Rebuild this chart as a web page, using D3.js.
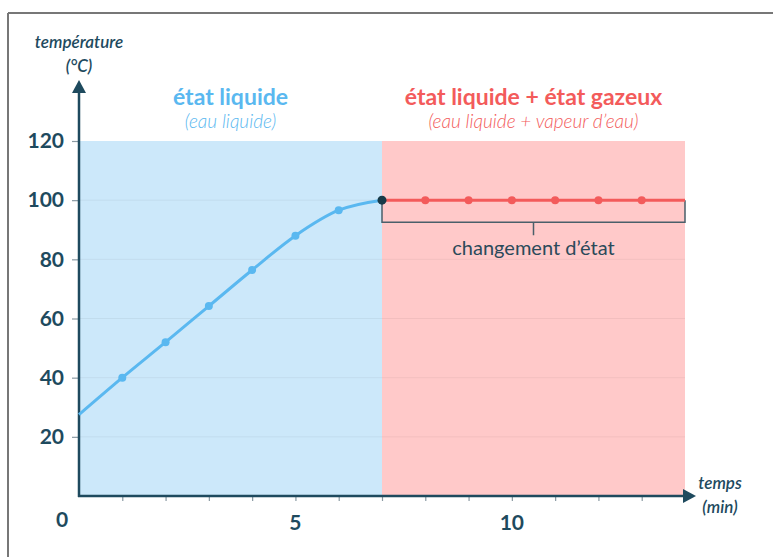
<!DOCTYPE html>
<html>
<head>
<meta charset="utf-8">
<script src="https://cdn.jsdelivr.net/npm/d3@7"></script>
<style>
  body { margin: 0; background: #fff; }
  svg { display: block; font-family: Lato, "Open Sans", sans-serif; }
</style>
</head>
<body>
<div id="chart"></div>
<script>
// heating curve of water: liquid phase then boiling plateau
const heatTimes = [0, 1, 2, 3, 4, 5, 6, 7];
const heatTemps = [27.5, 40, 52, 64.2, 76.4, 88, 96.6, 100];
const boilTimes = [7, 8, 9, 10, 11, 12, 13, 14];
const boilTemps = [100, 100, 100, 100, 100, 100, 100, 100];
const yTicks = [20, 40, 60, 80, 100, 120];
const xLabels = [0, 5, 10];
const phases = [
  { from: 0, to: 7, title: "état liquide", sub: "(eau liquide)" },
  { from: 7, to: 14, title: "état liquide + état gazeux", sub: "(eau liquide + vapeur d’eau)" }
];

const W = 773, H = 557;
const dark = "#1e4a5e";
const blue = "#5ab8f0";
const red = "#f35b5b";
const fills = ["#cce8fa", "#ffc9c9"];
const titleCols = ["#5ab8f0", "#f35b5b"];

const svg = d3.select("#chart").append("svg")
  .attr("width", W)
  .attr("height", H);

const x = d3.scaleLinear().domain([0, 14]).range([79, 685]);
const y = d3.scaleLinear().domain([0, 120]).range([496, 141]);

// frame
svg.append("line").attr("x1", 8).attr("x2", W).attr("y1", 13).attr("y2", 13)
  .attr("stroke", "#777").attr("stroke-width", 2);
svg.append("line").attr("x1", 8).attr("x2", 8).attr("y1", 13).attr("y2", H)
  .attr("stroke", "#777").attr("stroke-width", 2);

// phase backgrounds
svg.selectAll("rect.phase")
  .data(phases)
  .join("rect")
  .attr("class", "phase")
  .attr("x", d => x(d.from))
  .attr("y", y(120))
  .attr("width", d => x(d.to) - x(d.from))
  .attr("height", y(0) - y(120))
  .attr("fill", (d, i) => fills[i]);

// faint gridlines
svg.selectAll("line.grid")
  .data(yTicks.slice(0, -1))
  .join("line")
  .attr("class", "grid")
  .attr("x1", x(0)).attr("x2", x(14))
  .attr("y1", d => y(d)).attr("y2", d => y(d))
  .attr("stroke", "#000").attr("stroke-opacity", 0.05);

// phase titles
svg.selectAll("text.ptitle")
  .data(phases)
  .join("text")
  .attr("class", "ptitle")
  .attr("x", d => (x(d.from) + x(d.to)) / 2)
  .attr("y", 105)
  .attr("text-anchor", "middle")
  .attr("font-size", 23)
  .attr("font-weight", 700)
  .attr("fill", (d, i) => titleCols[i])
  .text(d => d.title);

svg.selectAll("text.psub")
  .data(phases)
  .join("text")
  .attr("class", "psub")
  .attr("x", d => (x(d.from) + x(d.to)) / 2)
  .attr("y", 128)
  .attr("text-anchor", "middle")
  .attr("font-size", 19)
  .attr("font-style", "italic")
  .attr("font-weight", 300)
  .attr("fill", (d, i) => titleCols[i])
  .text(d => d.sub);

// y axis ticks + labels
const yAxis = d3.axisLeft(y).tickValues(yTicks).tickSize(7).tickPadding(8);
const gy = svg.append("g").attr("transform", `translate(${x(0)},0)`).call(yAxis);
gy.select(".domain").remove();
gy.selectAll(".tick line").attr("stroke", "#8a9aa3").attr("stroke-width", 1.2);
gy.selectAll(".tick text")
  .attr("font-family", "Lato, sans-serif")
  .attr("font-size", 21).attr("font-weight", 700).attr("fill", dark);

// x axis minor ticks + labels
const xAxis = d3.axisBottom(x).tickValues(d3.range(1, 14)).tickSize(5).tickFormat("");
const gx = svg.append("g").attr("transform", `translate(0,${y(0)})`).call(xAxis);
gx.select(".domain").remove();
gx.selectAll(".tick line").attr("stroke", "#8a9aa3").attr("stroke-width", 1.2);

svg.selectAll("text.xlab")
  .data(xLabels)
  .join("text")
  .attr("class", "xlab")
  .attr("x", d => d === 0 ? x(0) - 17 : x(d))
  .attr("y", d => d === 0 ? 527 : 530)
  .attr("text-anchor", "middle")
  .attr("font-size", 21).attr("font-weight", 700).attr("fill", dark)
  .text(d => d);

// axis lines with arrows
svg.append("line").attr("x1", x(0)).attr("x2", x(0)).attr("y1", y(0) + 1).attr("y2", 90)
  .attr("stroke", dark).attr("stroke-width", 2.5);
svg.append("path").attr("d", `M${x(0)},80 L${x(0) - 7},93 L${x(0) + 7},93 Z`).attr("fill", dark);
svg.append("line").attr("x1", x(0) - 1).attr("x2", 685).attr("y1", y(0)).attr("y2", y(0))
  .attr("stroke", dark).attr("stroke-width", 2.5);
svg.append("path").attr("d", `M696,${y(0)} L683,${y(0) - 7} L683,${y(0) + 7} Z`).attr("fill", dark);

// axis titles
const axisTitles = [
  { t: "température", x: 79, y: 48 },
  { t: "(°C)", x: 79, y: 72 },
  { t: "temps", x: 720, y: 489 },
  { t: "(min)", x: 720, y: 513 }
];
svg.selectAll("text.atitle")
  .data(axisTitles)
  .join("text")
  .attr("class", "atitle")
  .attr("x", d => d.x).attr("y", d => d.y)
  .attr("text-anchor", "middle")
  .attr("font-size", 17).attr("font-style", "italic").attr("font-weight", 600)
  .attr("fill", dark)
  .text(d => d.t);

// bracket under the plateau
const bTop = y(100), bBot = y(100) + 22, mid = (x(7) + x(14)) / 2;
svg.append("path")
  .attr("d", `M${x(7)},${bTop} V${bBot} H${x(14)} V${bTop} M${mid},${bBot} V${bBot + 13}`)
  .attr("fill", "none").attr("stroke", "#4a5f6a").attr("stroke-width", 1.5);
svg.append("text").attr("x", mid).attr("y", 255).attr("text-anchor", "middle")
  .attr("font-size", 20).attr("fill", "#2b4a5a").text("changement d’état");

// curves
const heatPts = heatTimes.map((t, i) => [t, heatTemps[i]]);
const boilPts = boilTimes.map((t, i) => [t, boilTemps[i]]);
const line = d3.line().x(d => x(d[0])).y(d => y(d[1])).curve(d3.curveMonotoneX);

svg.append("path").datum(heatPts).attr("d", line)
  .attr("fill", "none").attr("stroke", blue).attr("stroke-width", 3);
svg.append("path").datum(boilPts).attr("d", line)
  .attr("fill", "none").attr("stroke", red).attr("stroke-width", 3);

svg.selectAll("circle.hp")
  .data(heatPts.slice(1, -1))
  .join("circle").attr("class", "hp")
  .attr("cx", d => x(d[0])).attr("cy", d => y(d[1])).attr("r", 4)
  .attr("fill", blue);
svg.selectAll("circle.bp")
  .data(boilPts.slice(1, -1))
  .join("circle").attr("class", "bp")
  .attr("cx", d => x(d[0])).attr("cy", d => y(d[1])).attr("r", 4)
  .attr("fill", red);
svg.append("circle").datum(heatPts[heatPts.length - 1])
  .attr("cx", d => x(d[0])).attr("cy", d => y(d[1])).attr("r", 4.5)
  .attr("fill", "#173a48");
</script>
</body>
</html>
